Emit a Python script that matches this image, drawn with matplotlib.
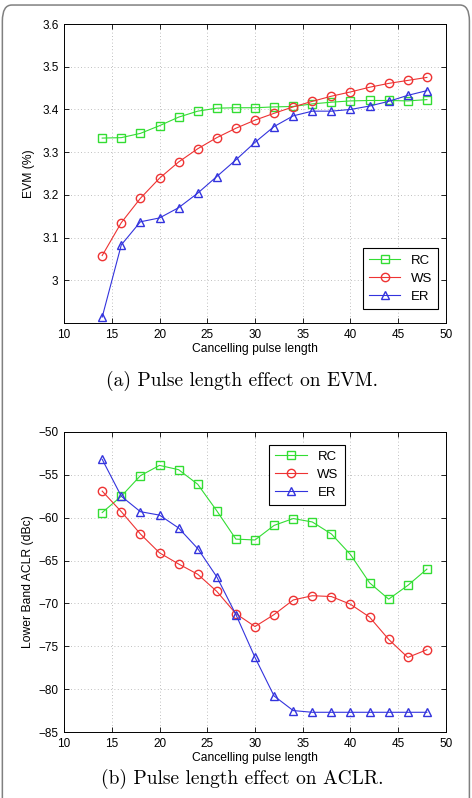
import matplotlib
matplotlib.use("Agg")

import matplotlib.pyplot as plt
from matplotlib.patches import FancyBboxPatch
from matplotlib.ticker import FuncFormatter

plt.rcParams['font.family'] = ['Liberation Sans', 'DejaVu Sans']

# pulse lengths
pulse_len = [14, 16, 18, 20, 22, 24, 26, 28, 30, 32, 34, 36, 38, 40, 42, 44, 46, 48]

# EVM (%)
evm_rc = [3.333, 3.334, 3.344, 3.362, 3.382, 3.396, 3.403, 3.404, 3.404, 3.406,
          3.407, 3.413, 3.417, 3.420, 3.421, 3.421, 3.420, 3.423]
evm_ws = [3.058, 3.135, 3.192, 3.239, 3.277, 3.308, 3.334, 3.356, 3.375, 3.391,
          3.406, 3.419, 3.431, 3.441, 3.452, 3.461, 3.468, 3.475]
evm_er = [2.914, 3.083, 3.137, 3.146, 3.170, 3.204, 3.243, 3.282, 3.323, 3.360,
          3.385, 3.396, 3.396, 3.400, 3.408, 3.419, 3.433, 3.444]

# Lower band ACLR (dBc)
aclr_rc = [-59.4, -57.5, -55.1, -53.9, -54.4, -56.1, -59.2, -62.5, -62.6, -60.9,
           -60.1, -60.5, -61.9, -64.3, -67.6, -69.5, -67.9, -66.0]
aclr_ws = [-56.9, -59.3, -61.9, -64.1, -65.4, -66.6, -68.6, -71.2, -72.7, -71.3,
           -69.6, -69.1, -69.2, -70.1, -71.6, -74.2, -76.3, -75.4]
aclr_er = [-53.2, -57.5, -59.3, -59.7, -61.2, -63.6, -66.9, -71.3, -76.3, -80.8,
           -82.5, -82.7, -82.7, -82.7, -82.7, -82.7, -82.7, -82.7]

names = ["RC", "WS", "ER"]
colors = ["#33dd33", "#ee3333", "#3333dd"]
markers = ["s", "o", "^"]

fig = plt.figure(figsize=(4.72, 7.98), dpi=100)

# rounded frame round the whole picture (runs off the bottom)
frame = FancyBboxPatch((0.005, -0.05), 0.9895, 1.0437, boxstyle="round,pad=0,rounding_size=0.02",
                       transform=fig.transFigure, fill=False, edgecolor="#808080", linewidth=1.1)
fig.patches.append(frame)

ax1 = fig.add_axes([0.1356, 0.5952, 0.8093, 0.3747])
ax2 = fig.add_axes([0.1356, 0.0827, 0.8093, 0.3760])


def style_axes(ax):
    ax.set_xlim(10, 50)
    ax.set_xticks(range(10, 51, 5))
    ax.grid(True, linestyle=(0, (1, 3)), color="#aaaaaa", linewidth=0.6)
    ax.tick_params(direction="in", top=True, right=True, length=3.5, width=0.6, labelsize=8.5, pad=4)
    for s in ax.spines.values():
        s.set_linewidth(0.7)
    ax.set_xlabel("Cancelling pulse length", fontsize=8.7, labelpad=2)


for y, name, c, m in zip([evm_rc, evm_ws, evm_er], names, colors, markers):
    ax1.plot(pulse_len, y, color=c, marker=m, markerfacecolor="none", markeredgecolor=c,
             markersize=6, linewidth=0.8, label=name)
style_axes(ax1)
ax1.set_ylim(2.9, 3.6)
ax1.set_yticks([3.0, 3.1, 3.2, 3.3, 3.4, 3.5, 3.6])
ax1.yaxis.set_major_formatter(FuncFormatter(lambda v, p: "%g" % round(v, 2)))
ax1.set_ylabel("EVM (%)", fontsize=8.7, labelpad=5)
leg1 = ax1.legend(loc="lower right", bbox_to_anchor=(0.997, 0.025), fontsize=9.5, fancybox=False,
                  edgecolor="black", framealpha=1, handlelength=2.4, borderpad=0.45, labelspacing=0.45)
leg1.get_frame().set_linewidth(0.8)

for y, name, c, m in zip([aclr_rc, aclr_ws, aclr_er], names, colors, markers):
    ax2.plot(pulse_len, y, color=c, marker=m, markerfacecolor="none", markeredgecolor=c,
             markersize=6, linewidth=0.8, label=name)
style_axes(ax2)
ax2.set_ylim(-85, -50)
ax2.set_yticks(range(-85, -49, 5))
ax2.set_ylabel("Lower Band ACLR (dBc)", fontsize=8.7, labelpad=3)
leg2 = ax2.legend(loc="upper left", bbox_to_anchor=(0.52, 0.98), fontsize=9.5, fancybox=False,
                  edgecolor="black", framealpha=1, handlelength=2.4, borderpad=0.45, labelspacing=0.45)
leg2.get_frame().set_linewidth(0.8)

fig.text(0.513, 1 - 381 / 798, "(a) Pulse length effect on EVM.", family=["cmr10", "DejaVu Serif"],
         fontsize=14, ha="center", va="center")
fig.text(0.513, 1 - 779 / 798, "(b) Pulse length effect on ACLR.", family=["cmr10", "DejaVu Serif"],
         fontsize=14, ha="center", va="center")

plt.savefig("out.png", dpi=100)
plt.close()
